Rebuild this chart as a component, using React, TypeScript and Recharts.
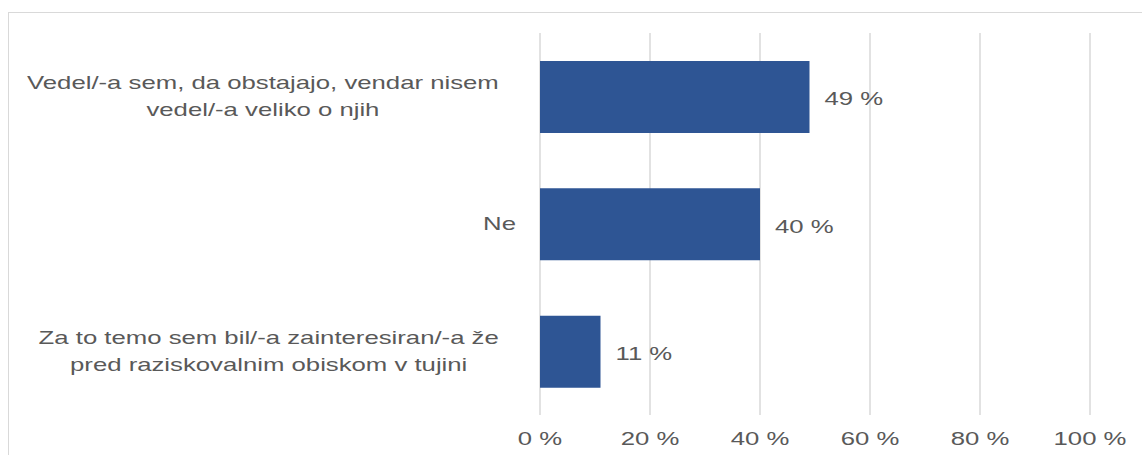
import React from 'react';
import { BarChart, Bar, XAxis, YAxis, CartesianGrid, LabelList } from 'recharts';

const categories = [
  'Vedel/-a sem, da obstajajo, vendar nisem\nvedel/-a veliko o njih',
  'Ne',
  'Za to temo sem bil/-a zainteresiran/-a že\npred raziskovalnim obiskom v tujini',
];
const values = [49, 40, 11];
const xTicks = [0, 20, 40, 60, 80, 100];

const data = categories.map((c, i) => ({ name: c, value: values[i] }));

const FONT = "'Liberation Sans', Arial, sans-serif";
const FS = 18;
const SX = 1.43;
const TEXT = '#595959';
const BAR = '#2E5594';
const GRID = '#d9d9d9';

let ctx: CanvasRenderingContext2D | null = null;
function measure(t: string): number {
  if (!ctx) ctx = document.createElement('canvas').getContext('2d');
  if (!ctx) return t.length * 9 * SX;
  ctx.font = `${FS}px 'Liberation Sans'`;
  return ctx.measureText(t).width * SX;
}

const YTick = (props: any) => {
  const { x, y, payload } = props;
  const lines = String(payload.value).split('\n');
  const w = Math.max(...lines.map(measure));
  const right = lines.length > 1 ? x - 17 : x;
  const cx = right - w / 2;
  const lh = 27;
  const y0 = y - ((lines.length - 1) * lh) / 2;
  return (
    <g>
      {lines.map((l, i) => (
        <text
          key={i}
          transform={`translate(${cx},${y0 + i * lh}) scale(${SX},1)`}
          textAnchor="middle"
          dy="0.35em"
          fill={TEXT}
          fontSize={FS}
          fontFamily={FONT}
        >
          {l}
        </text>
      ))}
    </g>
  );
};

const XTick = (props: any) => {
  const { x, y, payload } = props;
  return (
    <text
      transform={`translate(${x},${y + 29.5}) scale(${SX},1)`}
      textAnchor="middle"
      fill={TEXT}
      fontSize={FS}
      fontFamily={FONT}
    >
      {`${payload.value} %`}
    </text>
  );
};

const ValueLabel = (props: any) => {
  const { x, y, width, height, value } = props;
  return (
    <text
      transform={`translate(${x + width + 15},${y + height / 2 + 2}) scale(${SX},1)`}
      textAnchor="start"
      dy="0.35em"
      fill={TEXT}
      fontSize={FS}
      fontFamily={FONT}
    >
      {`${value} %`}
    </text>
  );
};

export default function App() {
  return (
    <div>
      <div
        style={{
          position: 'absolute',
          left: 8,
          top: 12,
          width: 1134,
          height: 443,
          borderTop: `1px solid ${GRID}`,
          borderLeft: `1px solid ${GRID}`,
          boxSizing: 'border-box',
        }}
      />
      <div style={{ position: 'absolute', left: 0, top: 0 }}>
        <BarChart
          width={1142}
          height={455}
          data={data}
          layout="vertical"
          margin={{ top: 33, right: 52, bottom: 0, left: 0 }}
        >
          <CartesianGrid horizontal={false} stroke={GRID} strokeWidth={1.5} />
          <XAxis
            type="number"
            domain={[0, 100]}
            ticks={xTicks}
            axisLine={false}
            tickLine={false}
            tickSize={0}
            tickMargin={0}
            height={40}
            tick={<XTick />}
            interval={0}
          />
          <YAxis
            type="category"
            dataKey="name"
            width={540}
            axisLine={false}
            tickLine={false}
            tickSize={0}
            tickMargin={24}
            tick={<YTick />}
            interval={0}
          />
          <Bar dataKey="value" fill={BAR} barSize={72} isAnimationActive={false}>
            <LabelList dataKey="value" content={<ValueLabel />} />
          </Bar>
        </BarChart>
      </div>
    </div>
  );
}
